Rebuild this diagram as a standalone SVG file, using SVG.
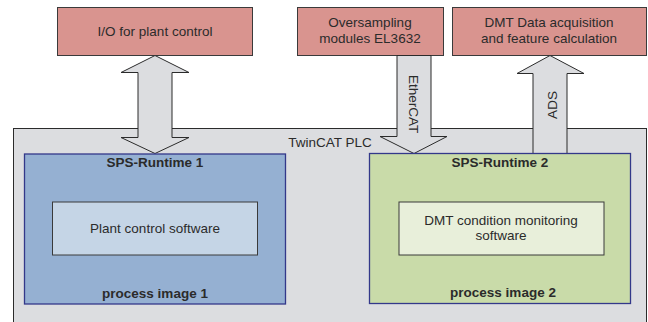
<svg xmlns="http://www.w3.org/2000/svg" width="648" height="322" viewBox="0 0 648 322">
<style>
text{font-family:"Liberation Sans",Arial,sans-serif;fill:#2b2b2b;text-anchor:middle}
.t{font-size:13.5px}
.b{font-size:13.5px;font-weight:bold}
.red{fill:#d9948f;stroke:#3a3a3a;stroke-width:1}
.arr{fill:#dcdde0;stroke:#2b2b2b;stroke-width:1}
.rt{stroke:#33388a;stroke-width:1.3}
.in{stroke:#3a3a3a;stroke-width:1}
</style>
<rect width="648" height="322" fill="#ffffff"/>
<g id="twincat">
<rect x="13.5" y="128.5" width="633" height="210" fill="#dcdde0" stroke="#2b2b2b" stroke-width="1"/>
<text class="t" x="330" y="147">TwinCAT PLC</text>
</g>
<g id="io">
<rect class="red" x="57.5" y="7.5" width="195" height="48"/>
<text class="t" x="155" y="36">I/O for plant control</text>
</g>
<g id="oversampling">
<rect class="red" x="297.5" y="7.5" width="146" height="48"/>
<text class="t" x="370" y="27">Oversampling</text>
<text class="t" x="370" y="43">modules EL3632</text>
</g>
<g id="dmtdata">
<rect class="red" x="452.5" y="7.5" width="194" height="48"/>
<text class="t" x="549" y="27">DMT Data acquisition</text>
<text class="t" x="549" y="43">and feature calculation</text>
</g>
<g id="connectors">
<polygon class="arr" points="155,55.5 189,72.5 172,72.5 172,137.5 189,137.5 155,153.5 121,137.5 138,137.5 138,72.5 121,72.5"/>
<polygon class="arr" points="397,55.5 431,55.5 431,136.5 447,136.5 414,153.5 380,136.5 397,136.5"/>
<polygon class="arr" points="550,55.5 584,73.5 567,73.5 567,153.5 533,153.5 533,73.5 517,73.5"/>
<text class="t" transform="translate(409,104) rotate(90)">EtherCAT</text>
<text class="t" transform="translate(557,105) rotate(-90)">ADS</text>
</g>
<g id="runtime1">
<rect class="rt" x="24.5" y="154" width="261" height="150" fill="#95b0d2"/>
<text class="b" x="155" y="167">SPS-Runtime 1</text>
<text class="b" x="155" y="298">process image 1</text>
</g>
<g id="plantsw">
<rect class="in" x="52.5" y="202" width="205" height="53" fill="#c5d5e6"/>
<text class="t" x="155" y="233">Plant control software</text>
</g>
<g id="runtime2">
<rect class="rt" x="369.5" y="153.5" width="261" height="150" fill="#c9dba9"/>
<text class="b" x="500" y="167">SPS-Runtime 2</text>
<text class="b" x="503" y="297">process image 2</text>
</g>
<g id="dmtsw">
<rect class="in" x="399" y="202" width="205" height="53" fill="#e8efda"/>
<text class="t" x="501" y="225">DMT condition monitoring</text>
<text class="t" x="501" y="240">software</text>
</g>
</svg>
